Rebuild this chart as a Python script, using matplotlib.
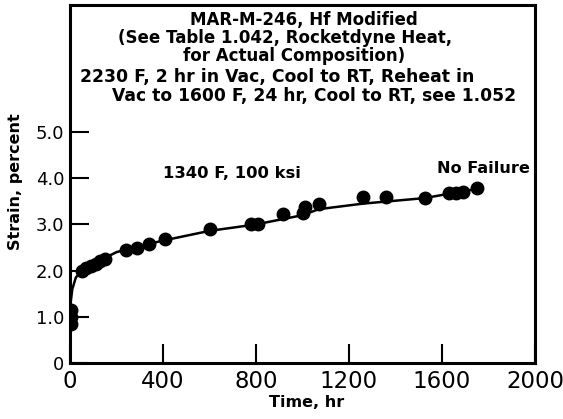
import matplotlib
matplotlib.use("Agg")
import matplotlib.pyplot as plt

# -------------------------------
# Dati
# -------------------------------
time_pts = [5, 5, 5, 50, 70, 90, 110, 130, 150, 240, 290, 340, 410, 600,
            780, 810, 915, 1000, 1010, 1070, 1260, 1360, 1525, 1630, 1660,
            1690, 1750]
strain_pts = [0.85, 1.0, 1.15, 2.0, 2.05, 2.1, 2.15, 2.2, 2.25, 2.45, 2.5,
              2.58, 2.68, 2.9, 3.0, 3.0, 3.22, 3.25, 3.38, 3.45, 3.6, 3.6,
              3.57, 3.67, 3.68, 3.7, 3.78]

curve_time = [0, 10, 25, 50, 100, 200, 300, 400, 600, 800, 1000, 1070,
              1260, 1525, 1750]
curve_strain = [1.2, 1.6, 1.85, 2.0, 2.15, 2.4, 2.53, 2.65, 2.86, 3.0,
                3.2, 3.33, 3.45, 3.57, 3.77]

x_ticks = [0, 400, 800, 1200, 1600, 2000]
y_ticks = [0, 1, 2, 3, 4, 5]
y_labels = ["0", "1.0", "2.0", "3.0", "4.0", "5.0"]

title_lines = [
    "MAR-M-246, Hf Modified",
    "(See Table 1.042, Rocketdyne Heat,",
    "for Actual Composition)",
]
treat_lines = [
    "2230 F, 2 hr in Vac, Cool to RT, Reheat in",
    "Vac to 1600 F, 24 hr, Cool to RT, see 1.052",
]

plt.rcParams['font.family'] = ['DejaVu Sans']

fig = plt.figure(figsize=(5.63, 4.19), dpi=100)
ax = fig.add_axes([70 / 563, 1 - 363 / 419, 465 / 563, 358 / 419])

ax.plot(curve_time, curve_strain, color="black", lw=1.8, zorder=2)
ax.plot(time_pts, strain_pts, "o", color="black", ms=9, zorder=3)

ax.set_xlim(0, 2000)
ax.set_ylim(0.1, 7.75)
ax.set_xticks(x_ticks)
ax.set_yticks(y_ticks)
ax.set_yticklabels(y_labels)
ax.tick_params(direction="in", length=14, width=1.5, pad=4)
ax.tick_params(axis="y", labelsize=13)
ax.tick_params(axis="x", labelsize=16.5, pad=5)
for s in ax.spines.values():
    s.set_linewidth(2.2)

ax.set_xlabel("Time, hr", fontsize=11.5, fontweight="bold")
ax.xaxis.set_label_coords(0.508, -0.09)
ax.set_ylabel("Strain, percent", fontsize=11.5, fontweight="bold")
ax.yaxis.set_label_coords(-0.10, 0.508)

# Titolo dentro il riquadro
title_x = [304, 285, 294]
title_y = [20, 38, 56]
for t, tx, ty in zip(title_lines, title_x, title_y):
    fig.text(tx / 563, 1 - ty / 419, t, ha="center", va="center",
             fontsize=12, fontweight="bold")
fig.text(80 / 563, 1 - 77 / 419, treat_lines[0], ha="left", va="center",
         fontsize=12.4, fontweight="bold")
fig.text(112 / 563, 1 - 96 / 419, treat_lines[1], ha="left", va="center",
         fontsize=12.3, fontweight="bold")

ax.text(400, 4.1, "1340 F, 100 ksi", fontsize=11.8, fontweight="bold", va="center")
ax.text(1577, 4.2, "No Failure", fontsize=11.6, fontweight="bold", va="center")

fig.savefig("out.png", dpi=100)
